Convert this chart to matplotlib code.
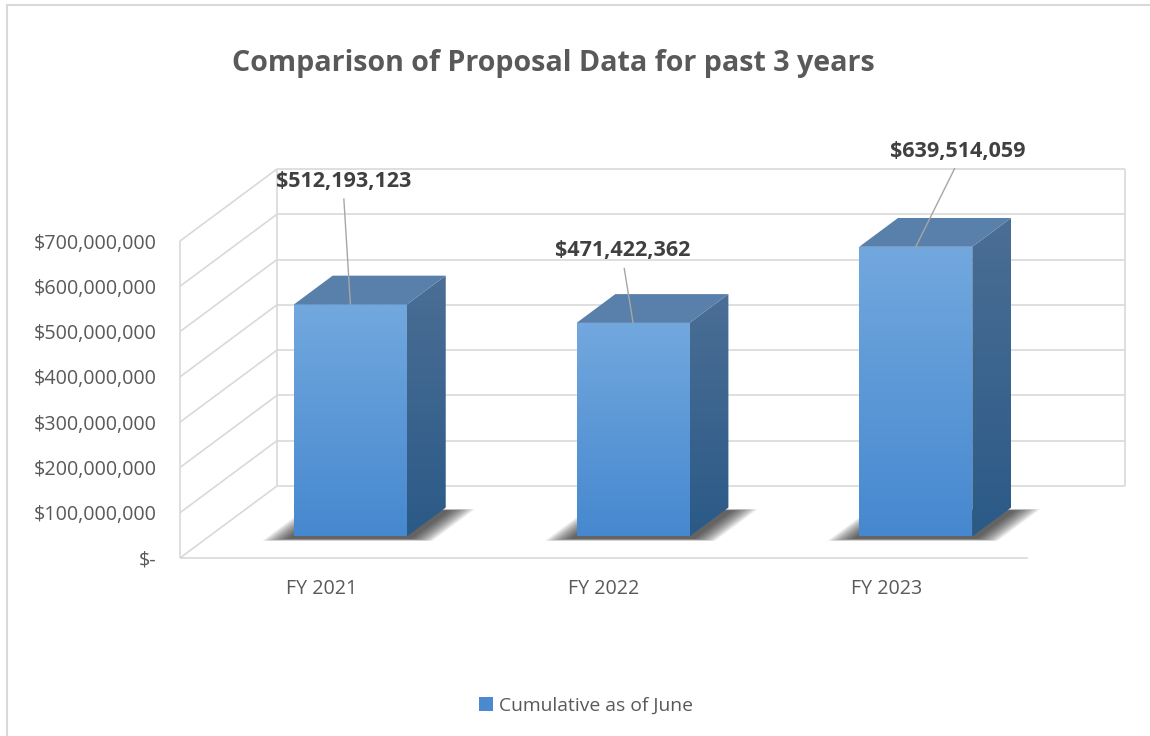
"""
Comparison of Proposal Data for past 3 years -- Excel-style 3D column chart.
"""
import numpy as np
import matplotlib
matplotlib.use('Agg')
import matplotlib.pyplot as plt
from matplotlib.patches import Polygon, Patch, Rectangle
from matplotlib.ticker import FuncFormatter

# ---------------------------------------------------------------------------
# Data
# ---------------------------------------------------------------------------
categories = ['FY 2021', 'FY 2022', 'FY 2023']
values = [512193123, 471422362, 639514059]
series_name = 'Cumulative as of June'
title = 'Comparison of Proposal Data for past 3 years'
y_ticks = [0, 100e6, 200e6, 300e6, 400e6, 500e6, 600e6, 700e6]

# ---------------------------------------------------------------------------
# Style
# ---------------------------------------------------------------------------
FONT = ['Open Sans', 'DejaVu Sans']
GRID = '#d9d9d9'
TEXT = '#595959'
LABEL = '#404040'
FRONT_TOP, FRONT_BOT = '#72a8de', '#4688cf'
SIDE_TOP, SIDE_BOT = '#4b6e95', '#2b5a87'
TOP_FACE = '#5880aa'

plt.rcParams['font.family'] = FONT

YMAX = 700e6
BAR_W = 0.4
Z0, Z1 = 0.3, 0.7          # bar depth inside the floor (0 = front, 1 = back wall)
DX = 0.343                 # oblique projection of unit depth, in category units
DY = 159e6                 # ... and in value units

W, H = 1150, 736
fig = plt.figure(figsize=(W / 100, H / 100), dpi=100)
ax = fig.add_axes([180 / W, 1 - 558 / H, 848 / W, 317 / H])
ax.set_xlim(-0.5, 2.5)
ax.set_ylim(0, YMAX)
ax.set_autoscale_on(False)


def proj(x, y, z):
    return (x + z * DX, y + z * DY)


def line(p, q, **kw):
    ax.plot([p[0], q[0]], [p[1], q[1]], color=GRID, lw=1.2,
            clip_on=False, zorder=1, solid_capstyle='butt', **kw)


def gradient_face(pts, c_top, c_bot, zorder):
    poly = Polygon(pts, closed=True, transform=ax.transData,
                   facecolor='none', edgecolor='none')
    xs = [p[0] for p in pts]
    ys = [p[1] for p in pts]
    top = np.array(matplotlib.colors.to_rgb(c_top))
    bot = np.array(matplotlib.colors.to_rgb(c_bot))
    t = np.linspace(0, 1, 128)[:, None]
    grad = (top * (1 - t) + bot * t)[:, None, :]
    im = ax.imshow(grad, extent=(min(xs), max(xs), min(ys), max(ys)),
                   aspect='auto', origin='upper', zorder=zorder,
                   interpolation='bilinear')
    im.set_clip_box(fig.bbox)
    im.set_clip_path(poly)


# ---------------------------------------------------------------------------
# Walls and gridlines
# ---------------------------------------------------------------------------
x_lo, x_hi = -0.5, 2.5
for v in y_ticks:
    line(proj(x_lo, v, 1), proj(x_hi, v, 1))      # back wall
    line(proj(x_lo, v, 0), proj(x_lo, v, 1))      # left wall
line(proj(x_lo, 0, 0), proj(x_lo, YMAX, 0))       # left wall front edge
line(proj(x_lo, 0, 1), proj(x_lo, YMAX, 1))       # back wall left edge
line(proj(x_hi, 0, 1), proj(x_hi, YMAX, 1))       # back wall right edge
line(proj(x_lo, 0, 0), proj(x_hi, 0, 0))          # floor front edge

# ---------------------------------------------------------------------------
# Bars
# ---------------------------------------------------------------------------
for i, v in enumerate(values):
    x0, x1 = i - BAR_W / 2, i + BAR_W / 2

    # soft floor shadow: stacked translucent footprints
    n = 12
    for k in range(n):
        e = 0.09 * (n - k) / n
        pts = [proj(x0 - e, 0, Z0 - 0.03 - e * 0.35),
               proj(x1 + e + 0.02, 0, Z0 - 0.03 - e * 0.35),
               proj(x1 + e + 0.02, 0, Z1 - 0.04 + e * 0.2),
               proj(x0 - e, 0, Z1 - 0.04 + e * 0.2)]
        ax.add_patch(Polygon(pts, closed=True, facecolor='#1a1a1a',
                             edgecolor='none', alpha=0.085,
                             clip_on=False, zorder=2))

    front = [proj(x0, 0, Z0), proj(x1, 0, Z0), proj(x1, v, Z0), proj(x0, v, Z0)]
    side = [proj(x1, 0, Z0), proj(x1, 0, Z1), proj(x1, v, Z1), proj(x1, v, Z0)]
    top = [proj(x0, v, Z0), proj(x1, v, Z0), proj(x1, v, Z1), proj(x0, v, Z1)]
    gradient_face(side, SIDE_TOP, SIDE_BOT, zorder=3)
    gradient_face(front, FRONT_TOP, FRONT_BOT, zorder=3)
    ax.add_patch(Polygon(top, closed=True, facecolor=TOP_FACE,
                         edgecolor='none', clip_on=False, zorder=3))

# data labels with leader lines (offsets in pixels from front-top centre)
label_offsets = [(-7, 123), (-10, 72), (42, 95)]
for i, (v, off) in enumerate(zip(values, label_offsets)):
    ax.annotate(f'${v:,.0f}', xy=proj(i, v, Z0), xytext=off,
                textcoords='offset pixels', ha='center', va='center',
                fontsize=15.5, fontweight='bold', color=LABEL,
                annotation_clip=False, zorder=5,
                arrowprops=dict(arrowstyle='-', color='#a6a6a6', lw=1,
                                relpos=(0.5, 0), shrinkA=5, shrinkB=0,
                                patchA=None))

# ---------------------------------------------------------------------------
# Axes, ticks
# ---------------------------------------------------------------------------
for s in ax.spines.values():
    s.set_visible(False)
ax.set_yticks(y_ticks)
ax.yaxis.set_major_formatter(FuncFormatter(
    lambda v, _: '$-' if v == 0 else f'${v:,.0f}'))
ax.set_xticks(range(len(categories)))
ax.set_xticklabels(categories)
ax.tick_params(axis='y', length=0, pad=17, labelsize=14.2, labelcolor=TEXT)
ax.tick_params(axis='x', length=0, pad=15, labelsize=14.1, labelcolor=TEXT)
ax.set_xlim(-0.5, 2.5)
ax.set_ylim(0, YMAX)
ax.set_facecolor('none')

fig.text(553 / W, 1 - 63 / H, title, ha='center', va='center',
         fontsize=20.6, fontweight='bold', color=TEXT)

fig.legend(handles=[Patch(facecolor='#4a8ad0', edgecolor='none')],
           labels=[series_name], loc='center',
           bbox_to_anchor=(586 / W, 1 - 706 / H), frameon=False,
           handlelength=0.75, handleheight=0.75, handletextpad=0.3,
           prop={'size': 13.9}, labelcolor=TEXT)

# chart area border
fig.add_artist(Rectangle((7 / W, -0.01), 1.02, 1 - 5 / H + 0.01,
                         transform=fig.transFigure, facecolor='none',
                         edgecolor=GRID, lw=1.5))

fig.savefig('out.png', dpi=100)
